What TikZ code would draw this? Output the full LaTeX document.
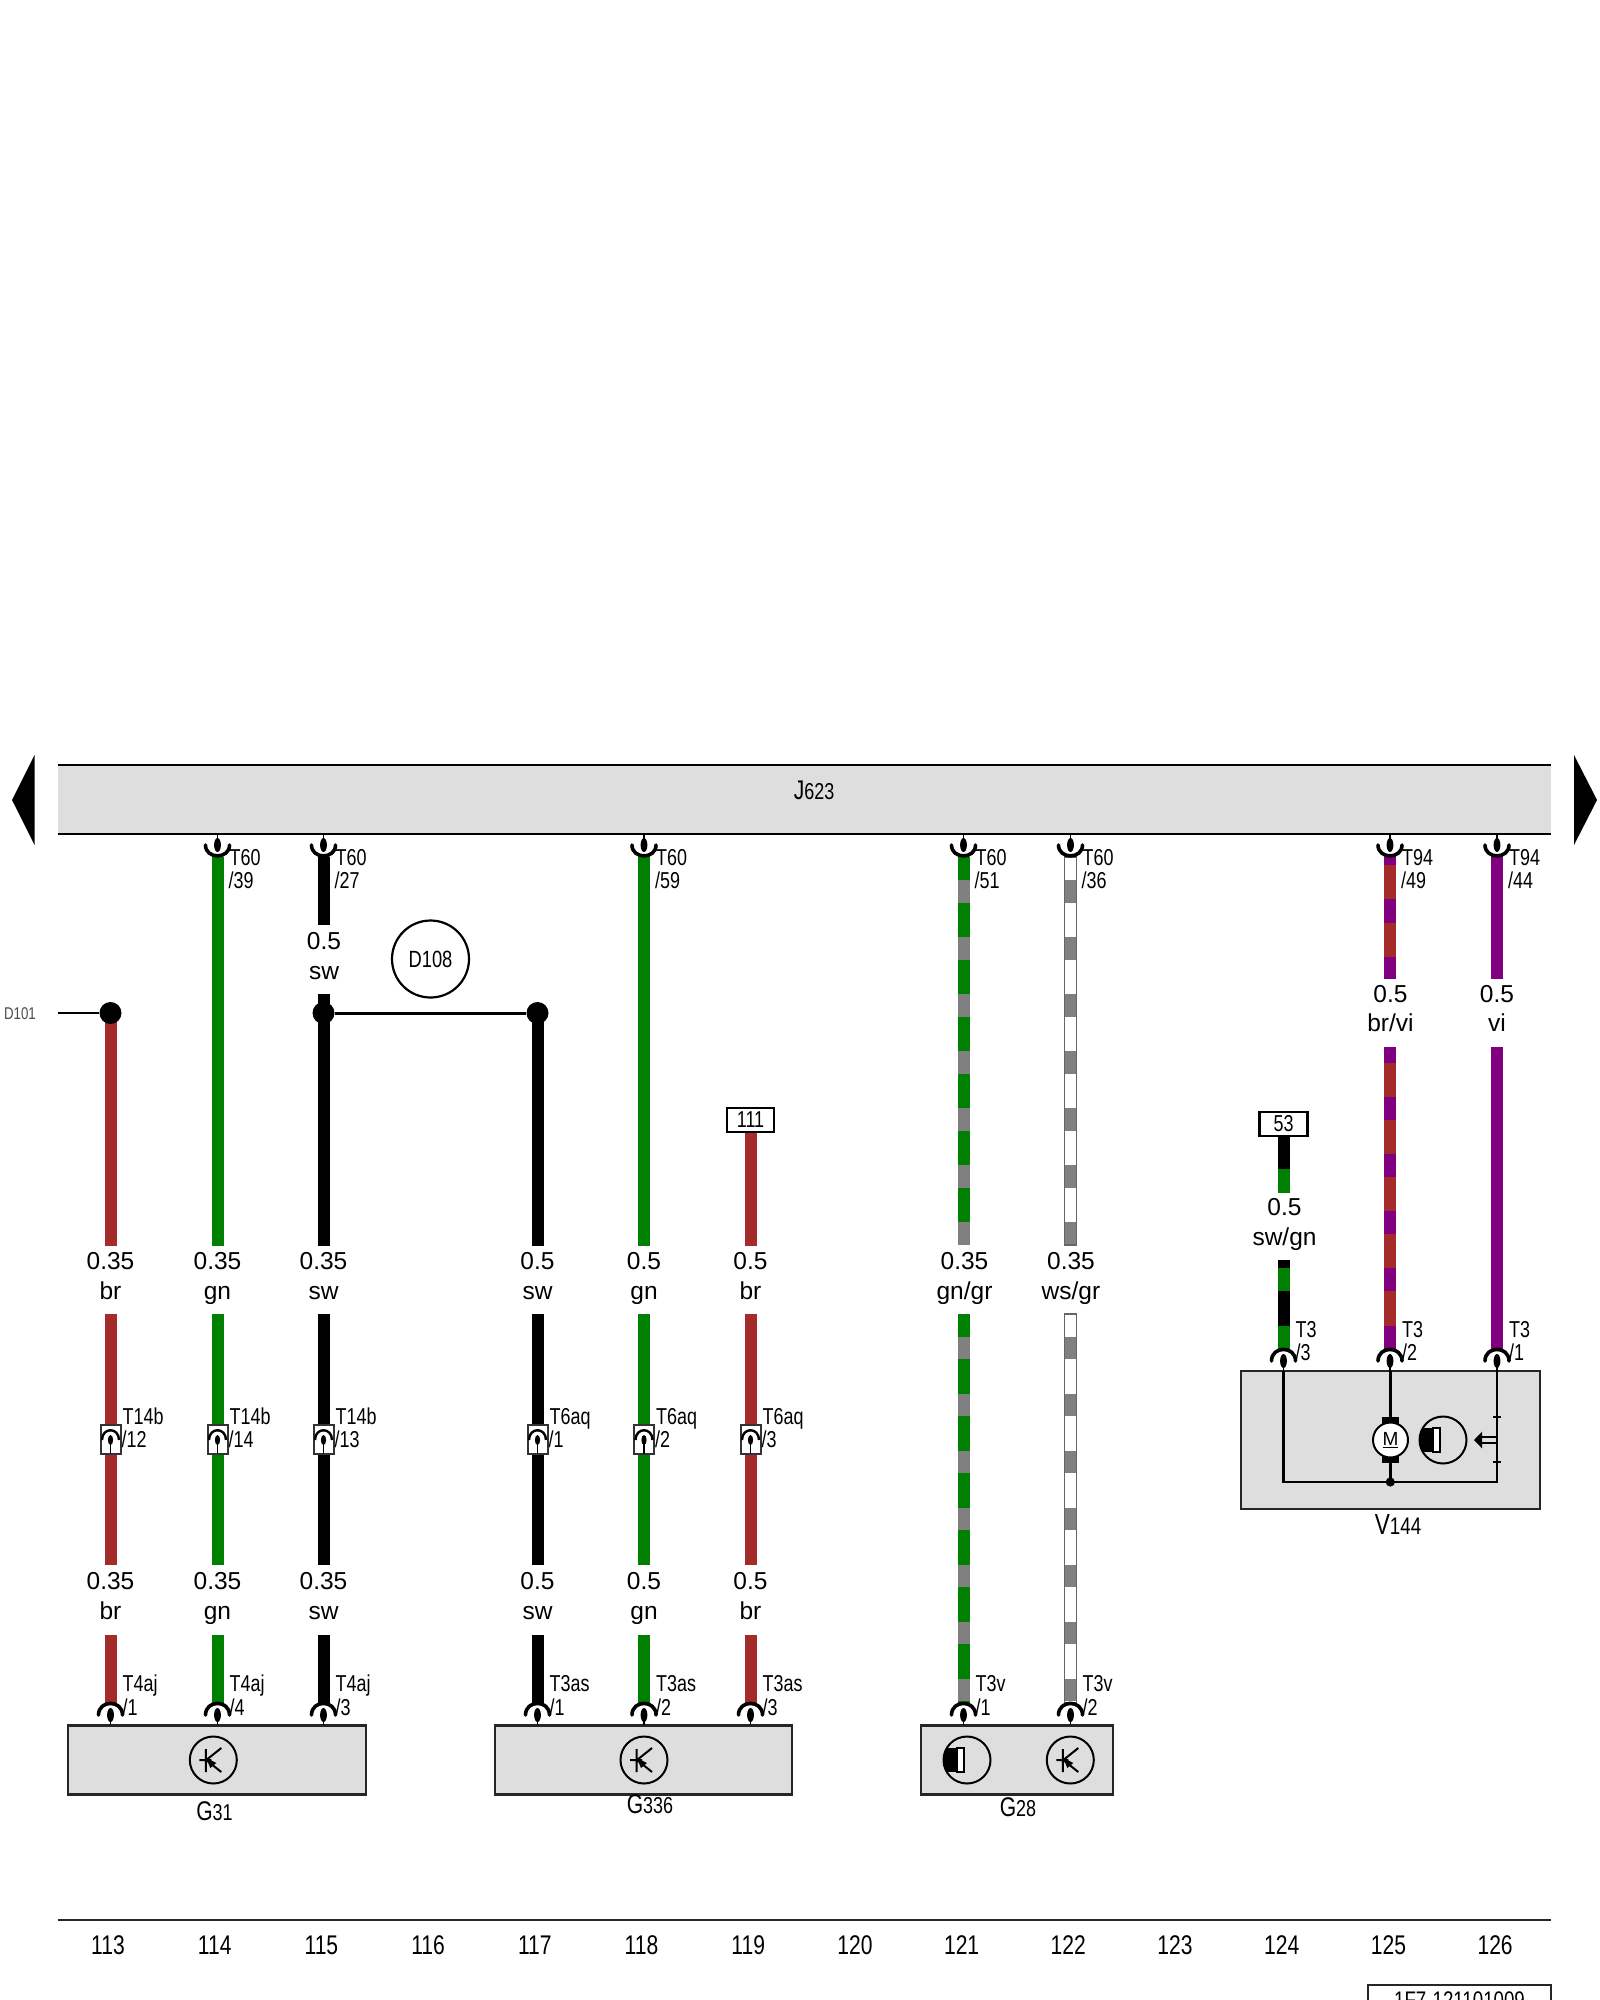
\documentclass[tikz,border=0pt]{standalone}
\usepackage{fontspec}
\setmainfont{Liberation Sans}
\newfontfamily\nf[FakeStretch=0.78]{Liberation Sans}
\definecolor{wgn}{HTML}{008000}
\definecolor{wbr}{HTML}{A52A2A}
\definecolor{wvi}{HTML}{800080}
\definecolor{wgr}{HTML}{808080}
\definecolor{boxg}{HTML}{DEDEDE}
\newcommand\pxs[1]{\fontsize{#1}{#1}\selectfont}
\newcount\wnum \newcount\lnum
\tikzset{
  wirep/.style={line width=12pt,line cap=butt},
  frameb/.style={draw=black!85,line width=2.4pt,fill=boxg},
  thinw/.style={draw=black,line width=2.4pt},
  symb/.style={draw=black,line width=2pt},
  gauge/.style={inner sep=0pt,anchor=base,font=\pxs{24.5}},
  tlab/.style={inner sep=0pt,anchor=base west,font=\nf\pxs{23}},
  numlab/.style={inner sep=0pt,anchor=base,font=\nf\pxs{27}},
  compbig/.style={inner sep=0pt,anchor=base},
  tagbox/.style={draw=black,line width=2.2pt,fill=white,inner sep=0pt,font=\nf\pxs{23}}
}
% wire segment between two named coordinates
\newcommand\wseg[4]{\global\advance\wnum by 1
  \coordinate (w\the\wnum a) at (#1,#2);
  \coordinate (w\the\wnum b) at (#1,#3);
  \draw[wirep,draw=#4] (w\the\wnum a) -- (w\the\wnum b);}
% two-line gauge/colour label
\newcommand\gauge[4]{\global\advance\lnum by 1
  \node[gauge] (g\the\lnum a) at (#1,#2-1.3) {#3};
  \node[gauge] (g\the\lnum b) at (#1,#2+28) {#4};}
% terminal label
\newcommand\tlabel[6]{\global\advance\lnum by 1
  \node[tlab] (t\the\lnum a) at (#1+12,#3) {#4};
  \node[tlab] (t\the\lnum b) at (#1+#2,#5) {#6};}
% pin going up from box (arc opening downwards)
\newcommand\pinb[3]{
  \draw[draw=black,line width=1.6pt] (#1,#2+13) -- (#1,#3);
  \fill[black] (#1,#2+13) ellipse [x radius=3.4,y radius=7];
  \draw[draw=black,line width=3.6pt,line cap=round] (#1-12,#2+13) .. controls (#1-12,#2-2.5) and (#1+12,#2-2.5) .. (#1+12,#2+13);}
% pin going down from bar (arc opening upwards)
\newcommand\pint[1]{
  \draw[draw=black,line width=1.6pt] (#1,834) -- (#1,845);
  \fill[black] (#1,845) ellipse [x radius=3.4,y radius=7];
  \draw[draw=black,line width=3.6pt,line cap=round] (#1-12,845) .. controls (#1-12,859.5) and (#1+12,859.5) .. (#1+12,845);}
% in-line connector
\newcommand\pinm[1]{
  \fill[white] (#1-10,1425) rectangle (#1+10,1454);
  \draw[draw=black!80,line width=2pt] (#1-10,1425) rectangle (#1+10,1454);
  \draw[draw=black,line width=1.6pt] (#1,1440) -- (#1,1454);
  \fill[black] (#1,1440) ellipse [x radius=2.6,y radius=5];
  \draw[draw=black,line width=2.4pt] (#1-8.5,1440) .. controls (#1-8.5,1427) and (#1+8.5,1427) .. (#1+8.5,1440);}
% striped wire: base colour, stripe colour, from, to, first stripe
\newcommand\stripes[6]{
  \wseg{#1}{#4}{#5}{#2}
  \foreach \k in {0,...,6}{\wseg{#1}{#6+57*\k}{#6+57*\k+22.6}{#3}}}
\newcommand\halla[2]{
  \draw[symb] (#1,#2) circle [radius=23.5];
  \begin{scope}\clip (#1,#2) circle [radius=23.5];
    \fill[black] (#1-24,#2-12) rectangle (#1-10,#2+12);
  \end{scope}
  \draw[draw=black,line width=1.6pt,fill=white] (#1-10,#2-12) rectangle (#1-3,#2+12);}
\newcommand\hallb[2]{
  \draw[symb] (#1,#2) circle [radius=23.5];
  \draw[draw=black,line width=2pt] (#1-14,#2) -- (#1-2,#2) (#1-7.5,#2-11) -- (#1-7.5,#2+12)
     (#1+8,#2-12) -- (#1-7,#2) -- (#1+8,#2+12);
  \fill[black] (#1-7,#2-2) -- (#1+3,#2+3) -- (#1-3,#2+8) -- cycle;}
\begin{document}
\begin{tikzpicture}[x=1pt,y=-1pt]
\useasboundingbox (0,0) rectangle (1600,2000);
\fill[white] (0,0) rectangle (1600,2000);
% bar J623
\fill[boxg] (57.5,765) rectangle (1550.5,834);
\coordinate (barTL) at (57.5,765); \coordinate (barTR) at (1550.5,765);
\coordinate (barBL) at (57.5,834); \coordinate (barBR) at (1550.5,834);
\draw[thinw] (barTL) -- (barTR) (barBL) -- (barBR);
\node[compbig] (J623) at (814,799) {\nf\pxs{27}J\pxs{23}623};
\fill[black] (34.6,755) -- (12,800) -- (34.6,845) -- cycle;
\fill[black] (1574,755) -- (1597,800) -- (1574,845) -- cycle;
% wires: upper
\wseg{110.5}{1013}{1246}{wbr}
\wseg{217.5}{857}{1246}{wgn}
\wseg{323.5}{857}{925}{black}
\wseg{323.5}{994}{1246}{black}
\wseg{537.5}{1013}{1246}{black}
\wseg{644}{857}{1246}{wgn}
\wseg{750.5}{1132}{1246}{wbr}
\stripes{963.5}{wgn}{wgr}{857}{1245}{880}
\stripes{1070.5}{white}{wgr}{857}{1245}{880}
\draw[draw=wgr!80!black,line width=1.4pt] (1064.5,857) rectangle (1076.5,1245);
% brown/violet upper
\foreach \a/\b/\c in {857/865/wvi,865/899/wbr,899/922.7/wvi,922.7/956.7/wbr,956.7/979.3/wvi}{\wseg{1390}{\a}{\b}{\c}}
\wseg{1497}{857}{979.3}{wvi}
% middle
\wseg{110.5}{1314}{1565}{wbr}
\wseg{217.5}{1314}{1565}{wgn}
\wseg{323.5}{1314}{1565}{black}
\wseg{537.5}{1314}{1565}{black}
\wseg{644}{1314}{1565}{wgn}
\wseg{750.5}{1314}{1565}{wbr}
% lower
\wseg{110.5}{1635}{1703}{wbr}
\wseg{217.5}{1635}{1703}{wgn}
\wseg{323.5}{1635}{1703}{black}
\wseg{537.5}{1635}{1703}{black}
\wseg{644}{1635}{1703}{wgn}
\wseg{750.5}{1635}{1703}{wbr}
\stripes{963.5}{wgn}{wgr}{1314}{1703}{1336.7}
\stripes{1070.5}{white}{wgr}{1314}{1703}{1336.7}
\draw[draw=wgr!80!black,line width=1.4pt] (1064.5,1314) rectangle (1076.5,1703);
% right-hand wires
\wseg{1283.5}{1136}{1169.3}{black}
\wseg{1283.5}{1169.3}{1192.7}{wgn}
\foreach \a/\b/\c in {1260/1268.3/black,1268.3/1291/wgn,1291/1325.7/black,1325.7/1349/wgn}{\wseg{1283.5}{\a}{\b}{\c}}
\foreach \a/\b/\c in {1047.3/1062.7/wvi,1062.7/1096.7/wbr,1096.7/1120/wvi,1120/1154.3/wbr,1154.3/1177/wvi,1177/1211/wbr,1211/1234/wvi,1234/1268.3/wbr,1268.3/1291/wvi,1291/1325.7/wbr,1325.7/1349/wvi}{\wseg{1390}{\a}{\b}{\c}}
\wseg{1497}{1047.3}{1349}{wvi}
% junctions
\node[circle,fill=black,inner sep=0pt,minimum size=22pt] (j1) at (110.5,1013) {};
\node[circle,fill=black,inner sep=0pt,minimum size=22pt] (j2) at (323.5,1013) {};
\node[circle,fill=black,inner sep=0pt,minimum size=22pt] (j3) at (537.5,1013) {};
\coordinate (d101) at (57.5,1013);
\draw[thinw] (d101) -- (j1);
\draw[draw=black,line width=3pt] (j2) -- (j3);
\node[inner sep=0pt,font=\nf\pxs{17},text=black!70] (D101) at (20,1014) {D101};
\node[circle,draw=black,line width=2.2pt,minimum size=77pt,inner sep=0pt,font=\nf\pxs{23.5}] (D108) at (430.5,959) {D108};
% tags
\node[tagbox,minimum width=46.5pt,minimum height=23.5pt] (tag111) at (750.5,1120) {111};
\node[tagbox,minimum width=48pt,minimum height=24.5pt] (tag53) at (1283.5,1124) {53};
% gauge labels
\gauge{110.5}{1271}{0.35}{br}
\gauge{217.5}{1271}{0.35}{gn}
\gauge{323.5}{1271}{0.35}{sw}
\gauge{537.5}{1271}{0.5}{sw}
\gauge{644}{1271}{0.5}{gn}
\gauge{750.5}{1271}{0.5}{br}
\gauge{964.5}{1271}{0.35}{gn/gr}
\gauge{1071}{1271}{0.35}{ws/gr}
\gauge{110.5}{1591}{0.35}{br}
\gauge{217.5}{1591}{0.35}{gn}
\gauge{323.5}{1591}{0.35}{sw}
\gauge{537.5}{1591}{0.5}{sw}
\gauge{644}{1591}{0.5}{gn}
\gauge{750.5}{1591}{0.5}{br}
\gauge{324}{951}{0.5}{sw}
\gauge{1390.5}{1003.5}{0.5}{br/vi}
\gauge{1497}{1003.5}{0.5}{vi}
\gauge{1284.5}{1217}{0.5}{sw/gn}
% boxes
\node[frameb,minimum width=298pt,minimum height=69pt,inner sep=0pt] (G31box) at (217,1760) {};
\node[frameb,minimum width=297pt,minimum height=69pt,inner sep=0pt] (G336box) at (643.5,1760) {};
\node[frameb,minimum width=192pt,minimum height=69pt,inner sep=0pt] (G28box) at (1017,1760) {};
\node[frameb,minimum width=299pt,minimum height=138pt,inner sep=0pt] (V144box) at (1390.5,1440) {};
% connectors top
\foreach \x in {217.5,323.5,644,963.5,1070.5,1390,1497}{\pint{\x}}
% connectors bottom
\foreach \x in {110.5,217.5,323.5,537.5,644,750.5,963.5,1070.5}{\pinb{\x}{1702}{1725}}
\foreach \x in {1283.5,1390,1497}{\pinb{\x}{1348}{1371}}
% in-line
\foreach \x in {110.5,217.5,323.5,537.5,644,750.5}{\pinm{\x}}
% terminal labels
\tlabel{217.5}{11}{865}{T60}{888}{/39}
\tlabel{323.5}{11}{865}{T60}{888}{/27}
\tlabel{644}{11}{865}{T60}{888}{/59}
\tlabel{963.5}{11}{865}{T60}{888}{/51}
\tlabel{1070.5}{11}{865}{T60}{888}{/36}
\tlabel{1390}{11}{865}{T94}{888}{/49}
\tlabel{1497}{11}{865}{T94}{888}{/44}
\tlabel{110.5}{11}{1424}{T14b}{1447}{/12}
\tlabel{217.5}{11}{1424}{T14b}{1447}{/14}
\tlabel{323.5}{11}{1424}{T14b}{1447}{/13}
\tlabel{537.5}{11}{1424}{T6aq}{1447}{/1}
\tlabel{644}{11}{1424}{T6aq}{1447}{/2}
\tlabel{750.5}{11}{1424}{T6aq}{1447}{/3}
\tlabel{110.5}{12}{1691}{T4aj}{1715}{/1}
\tlabel{217.5}{12}{1691}{T4aj}{1715}{/4}
\tlabel{323.5}{12}{1691}{T4aj}{1715}{/3}
\tlabel{537.5}{12}{1691}{T3as}{1715}{/1}
\tlabel{644}{12}{1691}{T3as}{1715}{/2}
\tlabel{750.5}{12}{1691}{T3as}{1715}{/3}
\tlabel{963.5}{12}{1691}{T3v}{1715}{/1}
\tlabel{1070.5}{12}{1691}{T3v}{1715}{/2}
\tlabel{1283.5}{12}{1337}{T3}{1360}{/3}
\tlabel{1390}{12}{1337}{T3}{1360}{/2}
\tlabel{1497}{12}{1337}{T3}{1360}{/1}
% sensors
\hallb{213.3}{1760}
\hallb{644}{1760}
\hallb{1070.3}{1760}
\halla{967}{1760}
% V144 internals
\coordinate (v1) at (1283.5,1371); \coordinate (v1b) at (1283.5,1482);
\coordinate (v3) at (1497,1371); \coordinate (v3b) at (1497,1482);
\coordinate (v2) at (1390.3,1371); \coordinate (v2b) at (1390.3,1482);
\draw[thinw] (v1) -- (v1b) -- (v3b) -- (v3);
\draw[thinw] (v2) -- (v2b);
\fill[black] (1381.7,1416.7) rectangle (1399,1463);
\node[circle,draw=black,line width=2pt,fill=white,minimum size=35pt,inner sep=0pt,font=\pxs{19}] (motor) at (1390.5,1440) {\underline{M}};
\fill[black] (v2b) circle [radius=4.6];
\halla{1443}{1440}
\fill[black] (1474,1440) -- (1482,1431.7) -- (1482,1448.3) -- cycle;
\coordinate (arA) at (1481,1437); \coordinate (arB) at (1497,1437);
\coordinate (arC) at (1481,1443); \coordinate (arD) at (1497,1443);
\draw[draw=black,line width=2pt] (arA) -- (arB) (arC) -- (arD);
\draw[draw=black,line width=2pt] (1493,1417) -- (1501,1417) (1493,1462) -- (1501,1462);
% component names
\node[compbig] (G31) at (214.5,1820) {\nf\pxs{27}G\pxs{23}31};
\node[compbig] (G336) at (650,1813) {\nf\pxs{27}G\pxs{23}336};
\node[compbig] (G28) at (1018,1816) {\nf\pxs{27}G\pxs{23}28};
\node[compbig] (V144) at (1398,1534) {\nf\pxs{29}V\pxs{24}144};
% bottom strip
\coordinate (stripL) at (57.5,1920); \coordinate (stripR) at (1550.5,1920);
\draw[draw=black!85,line width=2.4pt] (stripL) -- (stripR);
\foreach \n [count=\i from 0] in {113,114,115,116,117,118,119,120,121,122,123,124,125,126}{
  \node[numlab] (n\n) at (108+106.7*\i,1954) {\n};}
\begin{scope}
\clip (0,0) rectangle (1600,2000);
\node[draw=black!85,line width=2.4pt,minimum width=183pt,minimum height=30pt,inner sep=0pt,font=\nf\pxs{24}] (ref) at (1459.5,2000) {1F7-121101009};
\end{scope}
\end{tikzpicture}
\end{document}
